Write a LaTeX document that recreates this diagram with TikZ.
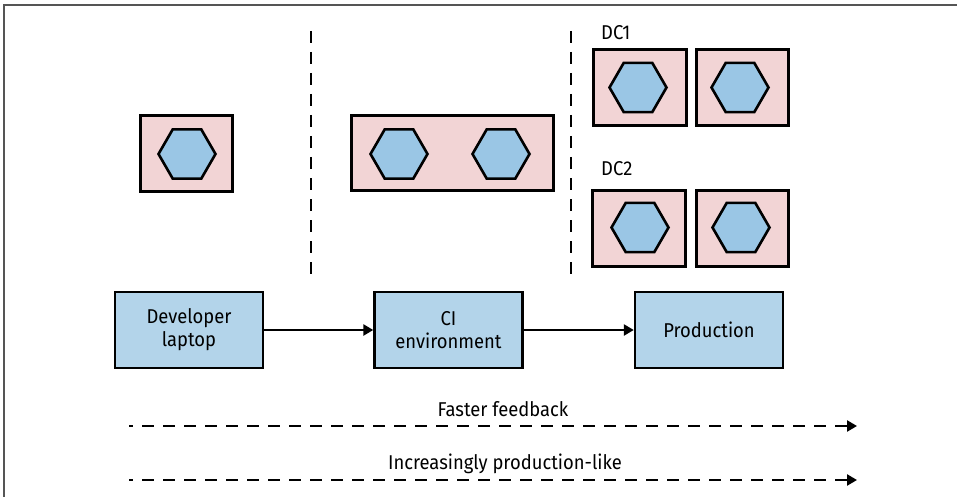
\documentclass[tikz,border=0pt]{standalone}
\usepackage{fontspec}
\setmainfont{Fira Sans}[FakeStretch=0.92]
\usetikzlibrary{shapes.geometric,arrows.meta}
\definecolor{podpink}{HTML}{F2D4D5}
\definecolor{hexblue}{HTML}{9AC6E5}
\definecolor{envblue}{HTML}{B3D4EA}
\definecolor{framegray}{HTML}{555555}
\tikzset{
  host/.style={draw=black, fill=podpink, line width=3pt, inner sep=0pt, rectangle},
  svc/.style={draw=black, fill=hexblue, line width=2.6pt, regular polygon, regular polygon sides=6, shape border rotate=0, minimum size=57pt, inner sep=0pt},
  envbox/.style={draw=black, fill=envblue, line width=2.4pt, minimum width=148pt, minimum height=76pt, inner sep=0pt, align=center, font=\fontsize{20}{23}\selectfont},
  lbl/.style={inner sep=0pt, font=\fontsize{20}{23}\selectfont},
  sep/.style={line width=2.4pt, dash pattern=on 12pt off 9pt},
  flow/.style={line width=2.4pt, -{Triangle[length=10pt,width=11pt]}},
  trend/.style={line width=2.4pt, dash pattern=on 12pt off 9pt, dash phase=8pt, -{Triangle[length=10pt,width=11pt]}},
}
\begin{document}
\begin{tikzpicture}[x=1pt,y=-1pt]
\useasboundingbox (0,0) rectangle (957,497);
% frame (top and left)
\draw[framegray, line width=1.6pt] (957,5) -- (4,5) -- (4,497);

% developer laptop host
\node[host, minimum width=92pt, minimum height=75pt] (h1) at (186,153.5) {};
\node[svc] (s1) at (187,154) {};

% CI host
\node[host, minimum width=202pt, minimum height=74pt] (h2) at (452,153) {};
\node[svc] (s2) at (399,154) {};
\node[svc] (s3) at (501,154) {};

% separators
\coordinate (d1a) at (311,31);
\coordinate (d1b) at (311,277);
\coordinate (d2a) at (571,31);
\coordinate (d2b) at (571,277);
\draw[sep] (d1a) -- (d1b);
\draw[sep] (d2a) -- (d2b);

% DC1
\node[lbl, anchor=west] (dc1) at (601,33) {DC1};
\node[host, minimum width=93pt, minimum height=76pt] (h3) at (639.5,88) {};
\node[host, minimum width=92pt, minimum height=76pt] (h4) at (742,88) {};
\node[svc] (s4) at (638,87.5) {};
\node[svc] (s5) at (740,87.5) {};

% DC2
\node[lbl, anchor=west] (dc2) at (601,169) {DC2};
\node[host, minimum width=93pt, minimum height=76pt] (h5) at (638.5,228) {};
\node[host, minimum width=92pt, minimum height=76pt] (h6) at (742,228) {};
\node[svc] (s6) at (640,227.5) {};
\node[svc] (s7) at (741,227.5) {};

% environments
\node[envbox] (dev) at (189,330) {Developer\\laptop};
\node[envbox] (ci) at (448.5,330) {CI\\environment};
\node[envbox] (prod) at (709,330) {Production};
\draw[flow] (dev) -- (ci);
\draw[flow] (ci) -- (prod);

% trends
\node[lbl] (fast) at (503,409) {Faster feedback};
\coordinate (f1) at (129,426);
\coordinate (f2) at (857,426);
\draw[trend] (f1) -- (f2);
\node[lbl] (like) at (505,464) {Increasingly production-like};
\coordinate (g1) at (129,480);
\coordinate (g2) at (857,480);
\draw[trend] (g1) -- (g2);
\end{tikzpicture}
\end{document}
